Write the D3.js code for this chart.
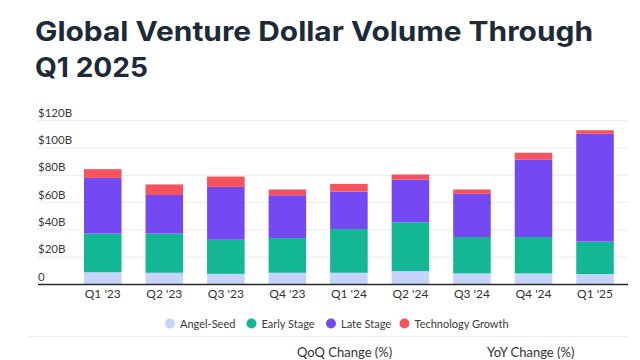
<!DOCTYPE html>
<html><head><meta charset="utf-8">
<script src="https://cdn.jsdelivr.net/npm/d3@7/dist/d3.min.js"></script>
<style>body{margin:0;background:#fff}svg{display:block}</style>
</head><body>
<svg id="c" width="640" height="360"></svg>
<script>
const quarters = ["Q1 '23","Q2 '23","Q3 '23","Q4 '23","Q1 '24","Q2 '24","Q3 '24","Q4 '24","Q1 '25"];
const angelSeed = [9.0, 8.6, 7.8, 8.6, 8.6, 9.8, 8.1, 8.1, 7.6];
const earlyStage = [28.3, 28.7, 25.0, 25.4, 32.0, 35.8, 26.7, 26.7, 23.8];
const lateStage = [40.8, 28.3, 38.7, 31.4, 27.5, 31.3, 31.6, 56.6, 79.0];
const techGrowth = [6.4, 7.7, 7.6, 4.2, 5.6, 3.7, 3.2, 5.1, 2.6];
const seriesNames = ["Angel-Seed","Early Stage","Late Stage","Technology Growth"];
const yTicks = [0, 20, 40, 60, 80, 100, 120];
const colors = ["#c6d4fa","#14b794","#7549f2","#f4525e"];

const svg = d3.select("#c");
const font = "Lato, 'Open Sans', sans-serif";

// title
svg.append("text").attr("x",35).attr("y",41).text("Global Venture Dollar Volume Through")
  .attr("font-family","Inter, sans-serif").attr("font-weight",700).attr("font-size",27).attr("fill","#1d2a38")
  .attr("textLength",558).attr("lengthAdjust","spacingAndGlyphs");
svg.append("text").attr("x",35).attr("y",77).text("Q1 2025")
  .attr("font-family","Inter, sans-serif").attr("font-weight",700).attr("font-size",27).attr("fill","#1d2a38")
  .attr("textLength",113).attr("lengthAdjust","spacingAndGlyphs");

const data = quarters.map((q,i)=>({q, a:angelSeed[i], e:earlyStage[i], l:lateStage[i], t:techGrowth[i]}));
const stack = d3.stack().keys(["a","e","l","t"])(data);

const y = d3.scaleLinear().domain([0,120]).range([284.5,120.7]);
const x = d3.scaleBand().domain(quarters).range([72,625.8]).paddingInner(0.39).paddingOuter(0.195);

// gridlines
svg.append("g").selectAll("line").data(yTicks.slice(1)).join("line")
  .attr("x1",37).attr("x2",628).attr("y1",d=>y(d)).attr("y2",d=>y(d))
  .attr("stroke","#ececec").attr("stroke-width",1);

svg.append("g").selectAll("text").data(yTicks).join("text")
  .attr("x",38).attr("y",d=>y(d)-4).text(d=>d===0?"0":"$"+d+"B")
  .attr("font-family",font).attr("font-size",11.5).attr("fill","#3b3b3b");

// bars
svg.append("g").selectAll("g").data(stack).join("g").attr("fill",(d,i)=>colors[i])
  .selectAll("rect").data(d=>d).join("rect")
  .attr("x",d=>x(d.data.q)).attr("width",x.bandwidth())
  .attr("y",d=>y(d[1])).attr("height",d=>y(d[0])-y(d[1]));

// x axis
const xAxis = d3.axisBottom(x).tickSize(0).tickPadding(5);
const gx = svg.append("g").attr("transform","translate(0,284.5)").call(xAxis);
gx.select(".domain").remove();
gx.selectAll("text").attr("font-family",font).attr("font-size",12).attr("fill","#333");
svg.append("line").attr("x1",38).attr("x2",628).attr("y1",284.5).attr("y2",284.5).attr("stroke","#2a2a2a").attr("stroke-width",1.5);

// legend
const legX = [170, 251.5, 331, 404.5];
const lg = svg.append("g").selectAll("g").data(seriesNames).join("g")
  .attr("transform",(d,i)=>`translate(${legX[i]},323.5)`);
lg.append("circle").attr("r",5).attr("fill",(d,i)=>colors[i]);
lg.append("text").attr("x",10).attr("y",4).text(d=>d)
  .attr("font-family",font).attr("font-size",11).attr("fill","#3a3a3a");

// separator
svg.append("line").attr("x1",28).attr("x2",628).attr("y1",336.5).attr("y2",336.5).attr("stroke","#eeeeee");

svg.append("text").attr("x",297).attr("y",357).text("QoQ Change (%)")
  .attr("font-family",font).attr("font-size",13).attr("fill","#333");
svg.append("text").attr("x",487).attr("y",357).text("YoY Change (%)")
  .attr("font-family",font).attr("font-size",13).attr("fill","#333");
</script>
</body></html>
